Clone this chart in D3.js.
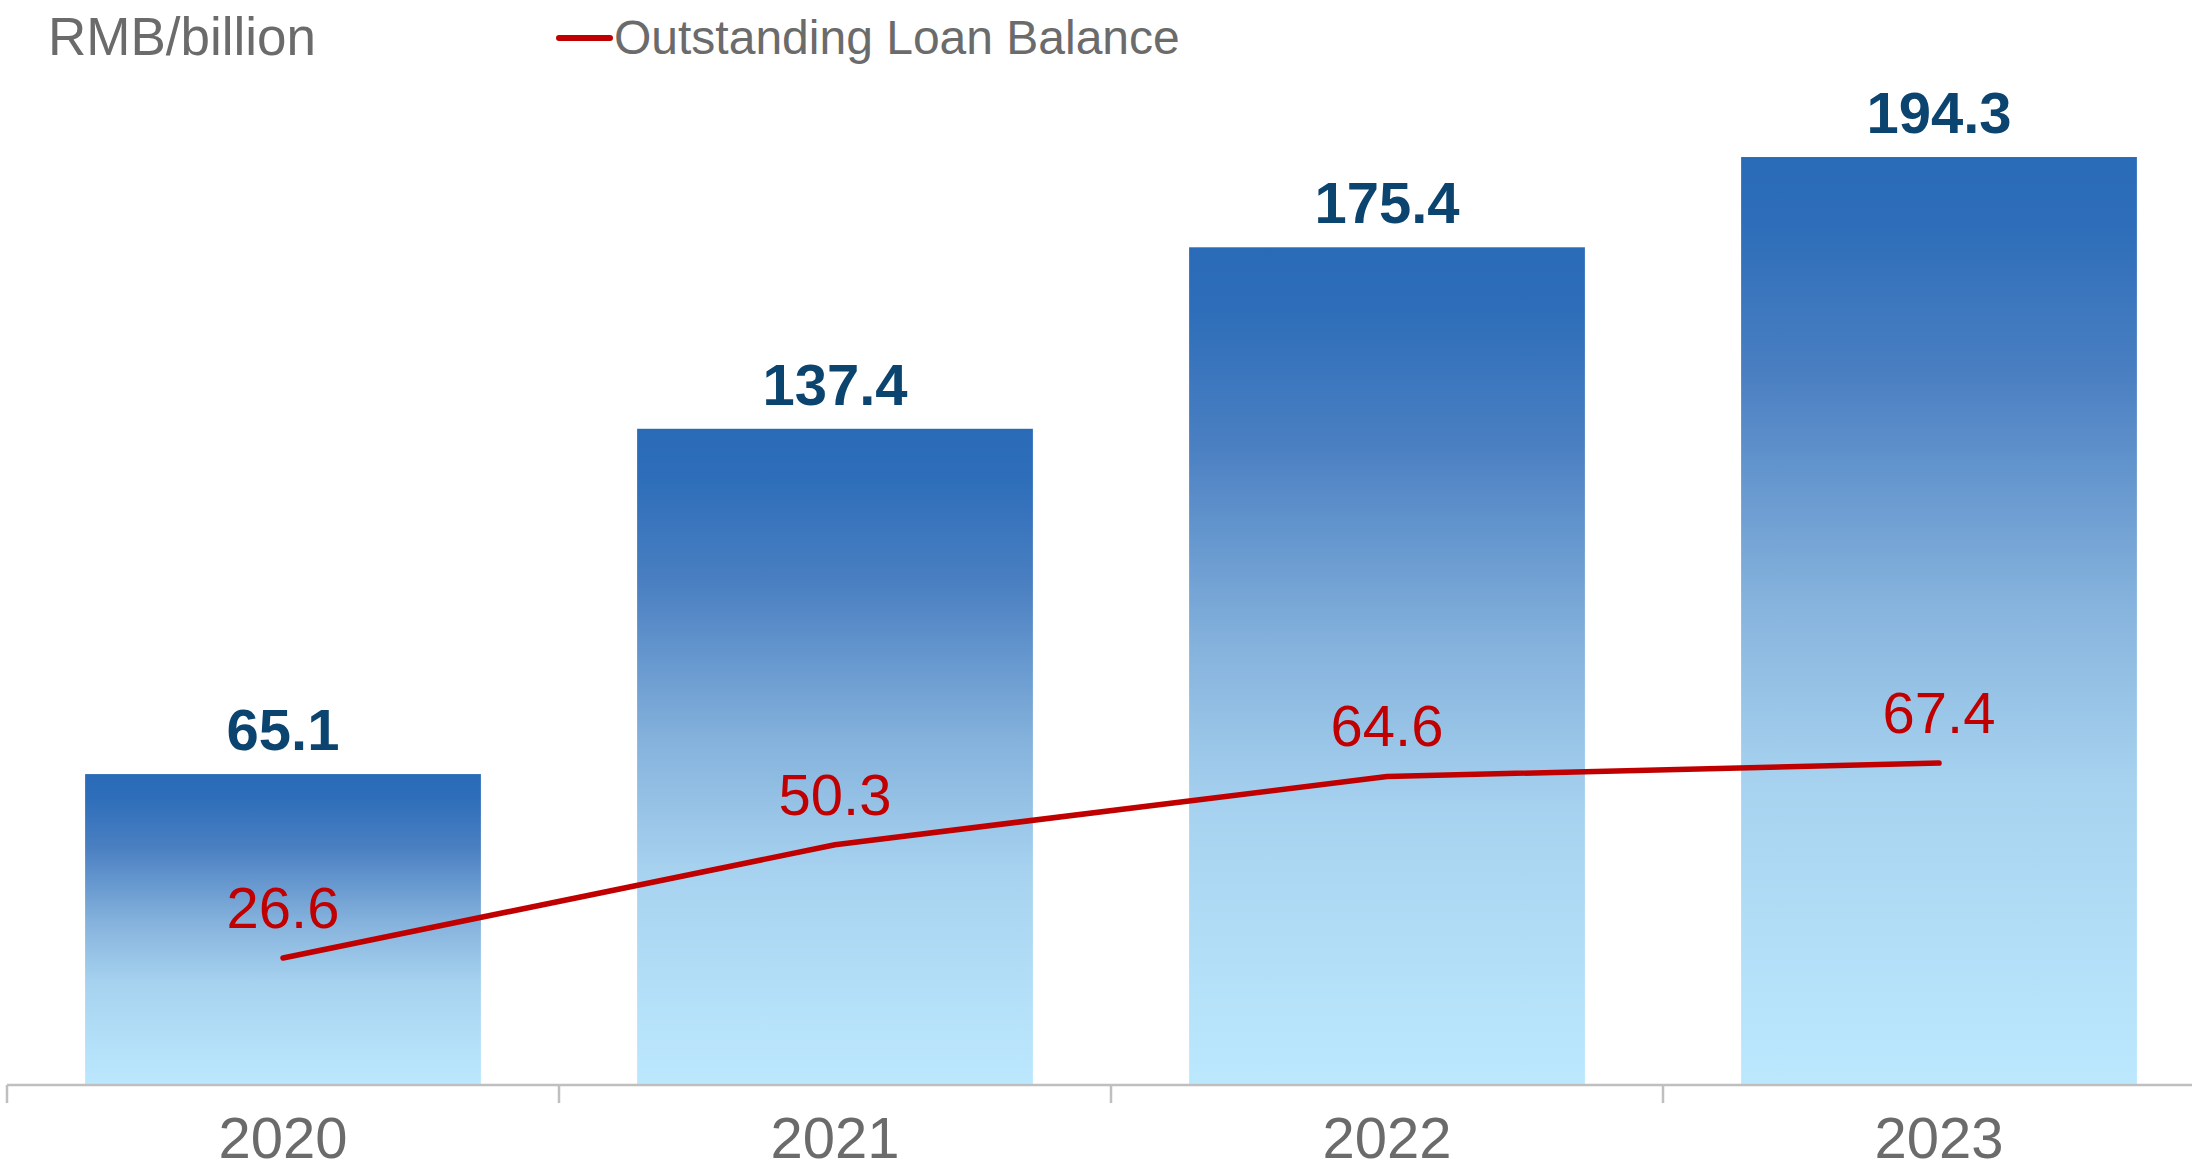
<!DOCTYPE html>
<html>
<head>
<meta charset="utf-8">
<script src="https://cdn.jsdelivr.net/npm/d3@7/dist/d3.min.js"></script>
<style>
  html, body { margin: 0; padding: 0; background: #ffffff; }
  svg { display: block; }
  text { font-family: "Liberation Sans", Arial, Helvetica, sans-serif; }
</style>
</head>
<body>
<svg id="chart" width="2192" height="1171"></svg>
<script>
// Years on the category axis
const years = ["2020", "2021", "2022", "2023"];
// Bar series (RMB billion)
const barValues = [65.1, 137.4, 175.4, 194.3];
// Line series: outstanding loan balance (RMB billion)
const loanBalance = [26.6, 50.3, 64.6, 67.4];

const unitLabel = "RMB/billion";
const legendLabel = "Outstanding Loan Balance";

const W = 2192, H = 1171;
const baseY = 1085;

const svg = d3.select("#chart");

const x = d3.scaleBand()
  .domain(years)
  .range([7, 2215])
  .paddingInner(0.283)
  .paddingOuter(0.1415);

const y = d3.scaleLinear()
  .domain([0, 220])
  .range([baseY, baseY - 220 * 4.776]);

const bw = x.bandwidth();
const cx = d => x(d) + bw / 2;

// Vertical gradient applied to each bar individually
const defs = svg.append("defs");
const grad = defs.append("linearGradient")
  .attr("id", "barGrad")
  .attr("x1", 0).attr("y1", 0).attr("x2", 0).attr("y2", 1);
[
  ["0%", "#2a6bb8"],
  ["7%", "#2d6db9"],
  ["24%", "#4b80c2"],
  ["48%", "#86b3dd"],
  ["68%", "#a8d3f0"],
  ["100%", "#bce8fe"]
].forEach(([o, c]) => grad.append("stop").attr("offset", o).attr("stop-color", c));

const bars = years.map((yr, i) => ({ year: yr, value: barValues[i] }));
const linePts = years.map((yr, i) => ({ year: yr, value: loanBalance[i] }));

// Bars
svg.append("g").selectAll("rect")
  .data(bars)
  .join("rect")
  .attr("x", d => x(d.year))
  .attr("y", d => y(d.value))
  .attr("width", bw)
  .attr("height", d => y(0) - y(d.value))
  .attr("fill", "url(#barGrad)");

// Category axis: baseline, boundary ticks and year labels
const axisG = svg.append("g");
axisG.append("line")
  .attr("x1", 7).attr("x2", W)
  .attr("y1", y(0)).attr("y2", y(0))
  .attr("stroke", "#bfbfbf").attr("stroke-width", 2.5);

const half = x.step() * x.paddingInner() / 2;
const bounds = years.map(d => x(d) - half).concat([x(years[years.length - 1]) + bw + half]);
axisG.selectAll("line.tick")
  .data(bounds)
  .join("line")
  .attr("class", "tick")
  .attr("x1", d => d).attr("x2", d => d)
  .attr("y1", y(0)).attr("y2", y(0) + 18)
  .attr("stroke", "#bfbfbf").attr("stroke-width", 2.5);

const xAxis = d3.axisBottom(x).tickSize(0).tickPadding(0);
const xg = svg.append("g")
  .attr("transform", `translate(0,${y(0)})`)
  .call(xAxis);
xg.select(".domain").remove();
xg.selectAll("text")
  .attr("dy", null)
  .attr("y", 73)
  .attr("fill", "#6b6b6b")
  .attr("font-size", 58)
  .attr("font-family", "'Liberation Sans', Arial, sans-serif");

// Bar value labels
svg.append("g").selectAll("text")
  .data(bars)
  .join("text")
  .attr("x", d => cx(d.year))
  .attr("y", d => y(d.value) - 24)
  .attr("text-anchor", "middle")
  .attr("font-size", 58)
  .attr("font-weight", "bold")
  .attr("fill", "#0c4470")
  .text(d => d.value.toFixed(1));

// Loan balance line
const line = d3.line()
  .x(d => cx(d.year))
  .y(d => y(d.value));

svg.append("path")
  .datum(linePts)
  .attr("d", line)
  .attr("fill", "none")
  .attr("stroke", "#c00000")
  .attr("stroke-width", 5.5)
  .attr("stroke-linecap", "round")
  .attr("stroke-linejoin", "round");

// Line value labels
svg.append("g").selectAll("text")
  .data(linePts)
  .join("text")
  .attr("x", d => cx(d.year))
  .attr("y", d => y(d.value) - 30)
  .attr("text-anchor", "middle")
  .attr("font-size", 58)
  .attr("fill", "#c00000")
  .text(d => d.value.toFixed(1));

// Unit label
svg.append("text")
  .attr("x", 48)
  .attr("y", 55)
  .attr("font-size", 53)
  .attr("fill", "#6b6b6b")
  .text(unitLabel);

// Legend
svg.append("line")
  .attr("x1", 559).attr("x2", 610)
  .attr("y1", 38).attr("y2", 38)
  .attr("stroke", "#c00000")
  .attr("stroke-width", 6)
  .attr("stroke-linecap", "round");
svg.append("text")
  .attr("x", 614)
  .attr("y", 54)
  .attr("font-size", 48)
  .attr("fill", "#6b6b6b")
  .text(legendLabel);
</script>
</body>
</html>
